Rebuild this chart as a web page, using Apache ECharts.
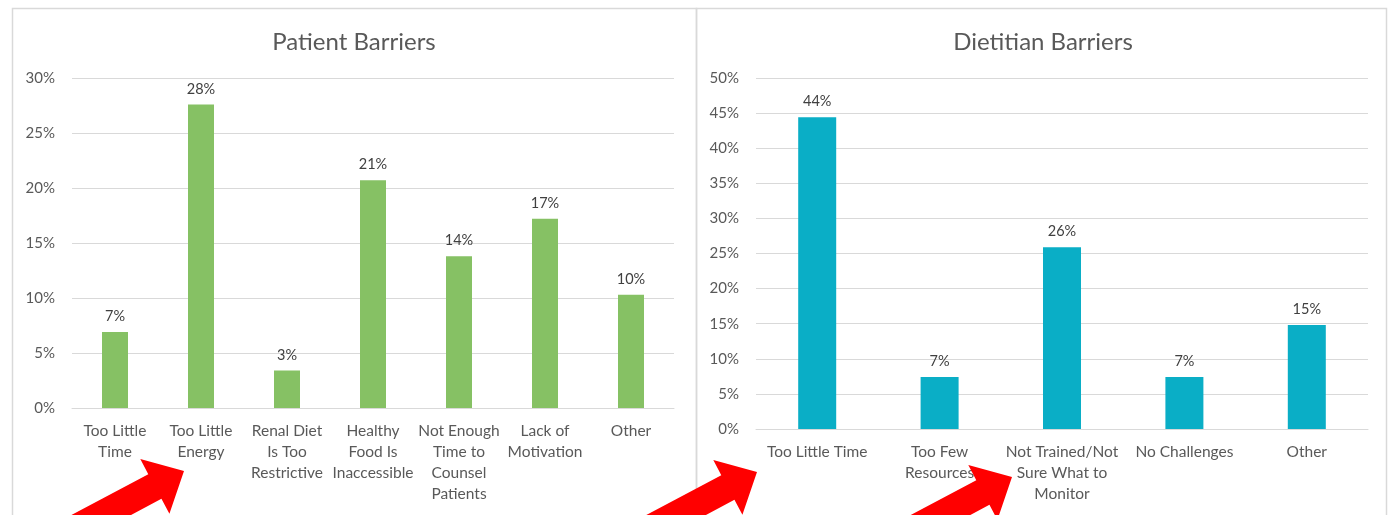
<!DOCTYPE html>
<html>
<head>
<meta charset="utf-8">
<title>Patient and Dietitian Barriers</title>
<script src="https://cdn.jsdelivr.net/npm/echarts@6/dist/echarts.min.js"></script>
<style>
  html, body { margin: 0; padding: 0; background: #ffffff; }
  #chart { width: 1391px; height: 515px; }
</style>
</head>
<body>
<div id="chart"></div>
<script>
// Patient-reported barriers (share of respondents, %)
const patientCategories = [
  'Too Little\nTime',
  'Too Little\nEnergy',
  'Renal Diet\nIs Too\nRestrictive',
  'Healthy\nFood Is\nInaccessible',
  'Not Enough\nTime to\nCounsel\nPatients',
  'Lack of\nMotivation',
  'Other'
];
const patientValues = [6.9, 27.6, 3.4, 20.7, 13.8, 17.2, 10.3];
const patientTicks = { max: 30, step: 5 };

// Dietitian-reported barriers (share of respondents, %)
const dietitianCategories = [
  'Too Little Time',
  'Too Few\nResources',
  'Not Trained/Not\nSure What to\nMonitor',
  'No Challenges',
  'Other'
];
const dietitianValues = [44.4, 7.4, 25.9, 7.4, 14.8];
const dietitianTicks = { max: 50, step: 5 };

const FONT = 'Lato, "Open Sans", sans-serif';
const TEXT = '#595959';
const GRID_LINE = '#d9d9d9';

// Block arrow pointing up-right, tip at (tx, ty)
function arrowPoints(tx, ty, angleDeg) {
  const a = angleDeg * Math.PI / 180;
  const dx = Math.cos(a), dy = -Math.sin(a);
  const nx = -dy, ny = dx;
  const headLen = 33, headHalf = 31, shaftHalf = 14, shaftLen = 140;
  const bx = tx - headLen * dx, by = ty - headLen * dy;
  const ex = bx - shaftLen * dx, ey = by - shaftLen * dy;
  return [
    [tx, ty],
    [bx - headHalf * nx, by - headHalf * ny],
    [bx - shaftHalf * nx, by - shaftHalf * ny],
    [ex - shaftHalf * nx, ey - shaftHalf * ny],
    [ex + shaftHalf * nx, ey + shaftHalf * ny],
    [bx + shaftHalf * nx, by + shaftHalf * ny],
    [bx + headHalf * nx, by + headHalf * ny]
  ];
}

function valueAxis(gridIndex, ticks) {
  return {
    type: 'value',
    gridIndex: gridIndex,
    min: 0,
    max: ticks.max,
    interval: ticks.step,
    axisLine: { show: false },
    axisTick: { show: false },
    axisLabel: {
      formatter: '{value}%',
      color: TEXT,
      fontFamily: FONT,
      fontSize: 15,
      margin: 17
    },
    splitLine: { lineStyle: { color: GRID_LINE, width: 1 } }
  };
}

function categoryAxis(gridIndex, cats) {
  return {
    type: 'category',
    gridIndex: gridIndex,
    data: cats,
    axisLine: { lineStyle: { color: GRID_LINE, width: 1 } },
    axisTick: { show: false },
    axisLabel: {
      color: TEXT,
      fontFamily: FONT,
      fontSize: 15.5,
      lineHeight: 21,
      margin: 12,
      interval: 0
    }
  };
}

function barSeries(index, values, color, width) {
  return {
    type: 'bar',
    xAxisIndex: index,
    yAxisIndex: index,
    data: values,
    barWidth: width,
    itemStyle: { color: color },
    label: {
      show: true,
      position: 'top',
      distance: 8,
      color: '#404040',
      fontFamily: FONT,
      fontSize: 14.5,
      formatter: p => Math.round(p.value) + '%'
    },
    silent: true
  };
}

const chart = echarts.init(document.getElementById('chart'), null, { renderer: 'canvas' });

chart.setOption({
  backgroundColor: '#ffffff',
  animation: false,
  title: [
    {
      text: 'Patient Barriers',
      left: 354, top: 30, textAlign: 'center', padding: 0,
      textStyle: { color: TEXT, fontFamily: FONT, fontSize: 24, fontWeight: 'normal' }
    },
    {
      text: 'Dietitian Barriers',
      left: 1043, top: 30, textAlign: 'center', padding: 0,
      textStyle: { color: TEXT, fontFamily: FONT, fontSize: 24, fontWeight: 'normal' }
    }
  ],
  grid: [
    { left: 72, top: 78, width: 602, height: 330 },
    { left: 756, top: 78, width: 612, height: 351 }
  ],
  xAxis: [categoryAxis(0, patientCategories), categoryAxis(1, dietitianCategories)],
  yAxis: [valueAxis(0, patientTicks), valueAxis(1, dietitianTicks)],
  series: [
    barSeries(0, patientValues, '#86c164', 26),
    barSeries(1, dietitianValues, '#0aaec6', 38)
  ],
  graphic: [
    {
      type: 'rect', z: -1, silent: true,
      shape: { x: 12.5, y: 8.5, width: 684, height: 520 },
      style: { fill: 'none', stroke: '#d9d9d9', lineWidth: 1.5 }
    },
    {
      type: 'rect', z: -1, silent: true,
      shape: { x: 696.5, y: 8.5, width: 690, height: 520 },
      style: { fill: 'none', stroke: '#d9d9d9', lineWidth: 1.5 }
    },
    {
      type: 'polygon', z: 100, silent: true,
      shape: { points: arrowPoints(184, 471, 28) },
      style: { fill: '#ff0000' }
    },
    {
      type: 'polygon', z: 100, silent: true,
      shape: { points: arrowPoints(757, 472, 28) },
      style: { fill: '#ff0000' }
    },
    {
      type: 'polygon', z: 100, silent: true,
      shape: { points: arrowPoints(1012, 477, 28) },
      style: { fill: '#ff0000' }
    }
  ]
});
</script>
</body>
</html>
